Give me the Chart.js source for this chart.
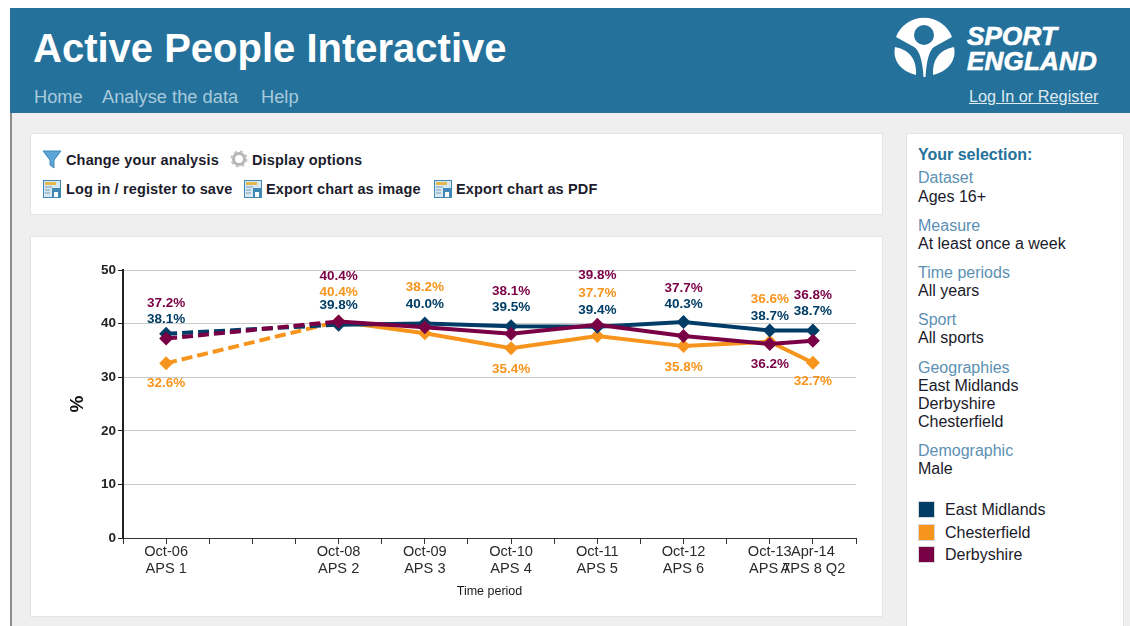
<!DOCTYPE html>
<html>
<head>
<meta charset="utf-8">
<title>Active People Interactive</title>
<script src="https://cdn.jsdelivr.net/npm/chart.js@4/dist/chart.umd.min.js"></script>
<style>
    html, body { margin: 0; padding: 0; background: #fff; }
    body { width: 1130px; height: 626px; overflow: hidden; position: relative; font-family: "Liberation Sans", Arial, sans-serif; }
    .abs { position: absolute; white-space: nowrap; }
    #page { position: absolute; left: 10px; top: 8px; width: 1120px; height: 618px; background: #efefef; border-left: 2px solid #8d8d8d; box-sizing: border-box; }
    #header { position: absolute; left: 10px; top: 8px; width: 1120px; height: 105px; background: #24719b; }
    #title { left: 33px; top: 24px; font-size: 40px; font-weight: bold; color: #fff; line-height: 48px; }
    .nav { top: 86px; font-size: 18.3px; line-height: 21px; color: #a8cadb; }
    #login { left: 969px; top: 86px; font-size: 16.3px; line-height: 21px; color: #dfeaf0; text-decoration: underline; }
    #brand { left: 967px; top: 24px; font-size: 26px; line-height: 25px; font-weight: bold; font-style: italic; color: #fff; letter-spacing: 0.2px; -webkit-text-stroke: 0.7px #fff; }
    .panel { position: absolute; background: #fff; border: 1px solid #e4e4e4; box-sizing: border-box; }
    .tool { font-size: 14.5px; font-weight: bold; line-height: 18px; color: #1c1c2c; letter-spacing: 0.15px; }
    .sel-h { left: 918px; top: 145px; font-size: 16px; font-weight: bold; line-height: 19px; color: #24719b; }
    .sel-k { left: 918px; font-size: 16px; line-height: 18px; color: #5c90b3; }
    .sel-v { left: 918px; font-size: 16px; line-height: 18px; color: #1a1a2a; }
    .swatch { left: 918px; width: 17px; height: 17px; box-sizing: border-box; border: 1px solid #d8d8d8; }
    .leg { left: 945px; font-size: 16px; line-height: 18px; color: #1a1a2a; }
    #chartBox { position: absolute; left: 30px; top: 236px; }
</style>
</head>
<body>
<div id="page"></div>
<div id="header"></div>
<div class="abs" id="title">Active People Interactive</div>
<div class="abs nav" style="left:34px">Home</div>
<div class="abs nav" style="left:102px">Analyse the data</div>
<div class="abs nav" style="left:261px">Help</div>

<svg class="abs" style="left:890px;top:14px" width="70" height="68" viewBox="890 14 70 68">
    <path fill="#fff" d="M896 37 A30 30 0 0 1 952 37 L934 47 Q927 52 925.500 77 L923.500 77 Q922 52 914 47 Z"/>
    <circle cx="924" cy="35" r="10" fill="#24719b"/>
    <path fill="#fff" d="M895 47 C905 49 917 55 916 75 C903 72 892 62 895 47 Z"/>
    <path fill="#fff" d="M954 47 C944 49 932 55 933 75 C946 72 957 62 954 47 Z"/>
</svg>
<div class="abs" id="brand">SPORT<br>ENGLAND</div>
<div class="abs" id="login">Log In or Register</div>

<div class="panel" style="left:30px;top:133px;width:853px;height:82px"></div>
<div class="panel" style="left:30px;top:236px;width:853px;height:381px"></div>
<div class="panel" style="left:906px;top:133px;width:218px;height:500px"></div>

<svg width="0" height="0" style="position:absolute">
    <defs>
        <g id="saveIcon">
            <rect x="0.500" y="0.500" width="17" height="17" fill="#d7e8f2" stroke="#3f87b5"/>
            <rect x="2" y="2" width="11" height="3" fill="#e3b94f"/>
            <path d="M2 7h7M2 10h5M2 13h5" stroke="#7a9db5"/>
            <rect x="9" y="8" width="8" height="9" fill="#3f87b5"/>
            <rect x="11" y="12" width="4" height="5" fill="#fff"/>
        </g>
    </defs>
</svg>
<svg class="abs" style="left:42px;top:149px" width="20" height="20"><path d="M1 2 H19 L12 11 V19 L8 16 V11 Z" fill="#5ea6d8" stroke="#3f87b5"/></svg>
<svg class="abs" style="left:230px;top:150px" width="18" height="18"><circle cx="9" cy="9" r="5.500" fill="none" stroke="#b5b5b5" stroke-width="3"/><circle cx="9" cy="9" r="7.500" fill="none" stroke="#c4c4c4" stroke-width="2" stroke-dasharray="3 3"/></svg>
<div class="abs tool" style="left:66px;top:151px">Change your analysis</div>
<div class="abs tool" style="left:252px;top:151px">Display options</div>
<svg class="abs" style="left:43px;top:180px" width="18" height="18"><use href="#saveIcon"/></svg>
<svg class="abs" style="left:244px;top:180px" width="18" height="18"><use href="#saveIcon"/></svg>
<svg class="abs" style="left:434px;top:180px" width="18" height="18"><use href="#saveIcon"/></svg>
<div class="abs tool" style="left:66px;top:180px">Log in / register to save</div>
<div class="abs tool" style="left:266px;top:180px">Export chart as image</div>
<div class="abs tool" style="left:456px;top:180px">Export chart as PDF</div>

<div id="chartBox"><canvas id="trendChart" width="853" height="381"></canvas></div>

<div class="abs sel-h">Your selection:</div>
<div class="abs sel-k" style="top:169px">Dataset</div>
<div class="abs sel-v" style="top:188px">Ages 16+</div>
<div class="abs sel-k" style="top:217px">Measure</div>
<div class="abs sel-v" style="top:235px">At least once a week</div>
<div class="abs sel-k" style="top:264px">Time periods</div>
<div class="abs sel-v" style="top:282px">All years</div>
<div class="abs sel-k" style="top:311px">Sport</div>
<div class="abs sel-v" style="top:329px">All sports</div>
<div class="abs sel-k" style="top:359px">Geographies</div>
<div class="abs sel-v" style="top:377px">East Midlands</div>
<div class="abs sel-v" style="top:395px">Derbyshire</div>
<div class="abs sel-v" style="top:413px">Chesterfield</div>
<div class="abs sel-k" style="top:442px">Demographic</div>
<div class="abs sel-v" style="top:460px">Male</div>
<div id="legendBox"></div>

<script>
// half-year slots from Apr-06 to Oct-14, most have no survey
const periods = ['', ['Oct-06', 'APS 1'], '', '', '', ['Oct-08', 'APS 2'], '', ['Oct-09', 'APS 3'], '', ['Oct-10', 'APS 4'], '', ['Oct-11', 'APS 5'], '', ['Oct-12', 'APS 6'], '', ['Oct-13', 'APS 7'], ['Apr-14', 'APS 8 Q2'], ''];
const eastMidlands = [null, 38.1, null, null, null, 39.8, null, 40.0, null, 39.5, null, 39.4, null, 40.3, null, 38.7, 38.7, null];
const chesterfield = [null, 32.6, null, null, null, 40.4, null, 38.2, null, 35.4, null, 37.7, null, 35.8, null, 36.6, 32.7, null];
const derbyshire = [null, 37.2, null, null, null, 40.4, null, 39.3, null, 38.1, null, 39.8, null, 37.7, null, 36.2, 36.8, null];
const yTicks = [0, 10, 20, 30, 40, 50];

// how far each value label sits above its point in px, negative is below, null is no label
const liftEast = [null, 16, null, null, null, 20, null, 20, null, 20, null, 18, null, 19, null, 15, 20, null];
const liftChest = [null, -19, null, null, null, 30, null, 47, null, -20, null, 44, null, -20, null, 44, -18, null];
const liftDerby = [null, 36, null, null, null, 46, null, null, null, 44, null, 50, null, 49, null, -19, 46, null];

// only the APS 1 to APS 2 stretch is dashed
const lastDashedSlot = 5;

function makeSeries(name, values, colour, lift, order) {
    return {
        label: name,
        data: values,
        borderColor: colour,
        backgroundColor: colour,
        pointBackgroundColor: colour,
        pointBorderColor: colour,
        borderWidth: 4,
        pointStyle: 'rectRot',
        pointRadius: 7,
        pointBorderWidth: 0,
        spanGaps: true,
        tension: 0,
        order: order,
        labelLift: lift,
        segment: {
            borderDash: ctx => (ctx.p1DataIndex <= lastDashedSlot ? [11, 5] : undefined)
        }
    };
}

const valueLabels = {
    id: 'valueLabels',
    afterDatasetsDraw(chart) {
        const c = chart.ctx;
        c.save();
        c.font = 'bold 13.5px "Liberation Sans", Arial, sans-serif';
        c.textAlign = 'center';
        c.textBaseline = 'middle';
        chart.data.datasets.forEach((ds, i) => {
            const points = chart.getDatasetMeta(i).data;
            c.fillStyle = ds.borderColor;
            ds.data.forEach((v, j) => {
                if (v === null || ds.labelLift[j] === null) return;
                c.fillText(v.toFixed(1) + '%', points[j].x, points[j].y - ds.labelLift[j] + 1);
            });
        });
        c.restore();
    }
};

const datasets = [
    makeSeries('East Midlands', eastMidlands, '#003d66', liftEast, 2),
    makeSeries('Chesterfield', chesterfield, '#f7941d', liftChest, 3),
    makeSeries('Derbyshire', derbyshire, '#7a0046', liftDerby, 1)
];

new Chart(document.getElementById('trendChart'), {
    type: 'line',
    data: { labels: periods, datasets: datasets },
    plugins: [valueLabels],
    options: {
        responsive: false,
        animation: false,
        layout: { padding: { left: 36, top: 34, right: 27, bottom: 18 } },
        plugins: { legend: { display: false }, tooltip: { enabled: false } },
        scales: {
            x: {
                offset: false,
                afterFit: scale => { scale.height = 61; },
                grid: { drawOnChartArea: false, color: '#333', tickLength: 6 },
                border: { color: '#333', width: 1 },
                ticks: {
                    autoSkip: false,
                    maxRotation: 0,
                    minRotation: 0,
                    padding: 0,
                    color: '#2a2a2a',
                    font: { family: '"Liberation Sans", Arial, sans-serif', size: 14.6, lineHeight: 1.12 }
                },
                title: {
                    display: true,
                    text: 'Time period',
                    color: '#1a1a1a',
                    padding: { top: 9, bottom: 0 },
                    font: { family: '"Liberation Sans", Arial, sans-serif', size: 12.5 }
                }
            },
            y: {
                min: 0,
                max: 50,
                afterBuildTicks: scale => { scale.ticks = yTicks.map(v => ({ value: v })); },
                afterFit: scale => { scale.width = 57; },
                grid: { color: '#c9c9c9', lineWidth: 1, tickColor: '#222', tickLength: 5 },
                border: { color: '#222', width: 2 },
                ticks: {
                    padding: 2,
                    color: '#222',
                    font: { family: '"Liberation Sans", Arial, sans-serif', size: 13.5, weight: 'bold' }
                },
                title: {
                    display: true,
                    text: '%',
                    color: '#111',
                    padding: 0,
                    font: { family: '"Liberation Sans", Arial, sans-serif', size: 19, weight: 'bold' }
                }
            }
        }
    }
});

// side legend comes from the same series
const legendTop = [501, 524, 546];
const legendOrder = [0, 1, 2];
const legendBox = document.getElementById('legendBox');
legendOrder.forEach((idx, n) => {
    const ds = datasets[idx];
    legendBox.innerHTML += `<div class="abs swatch" style="top:${legendTop[n]}px;background:${ds.borderColor}"></div>` +
        `<div class="abs leg" style="top:${legendTop[n]}px">${ds.label}</div>`;
});
</script>
</body>
</html>
